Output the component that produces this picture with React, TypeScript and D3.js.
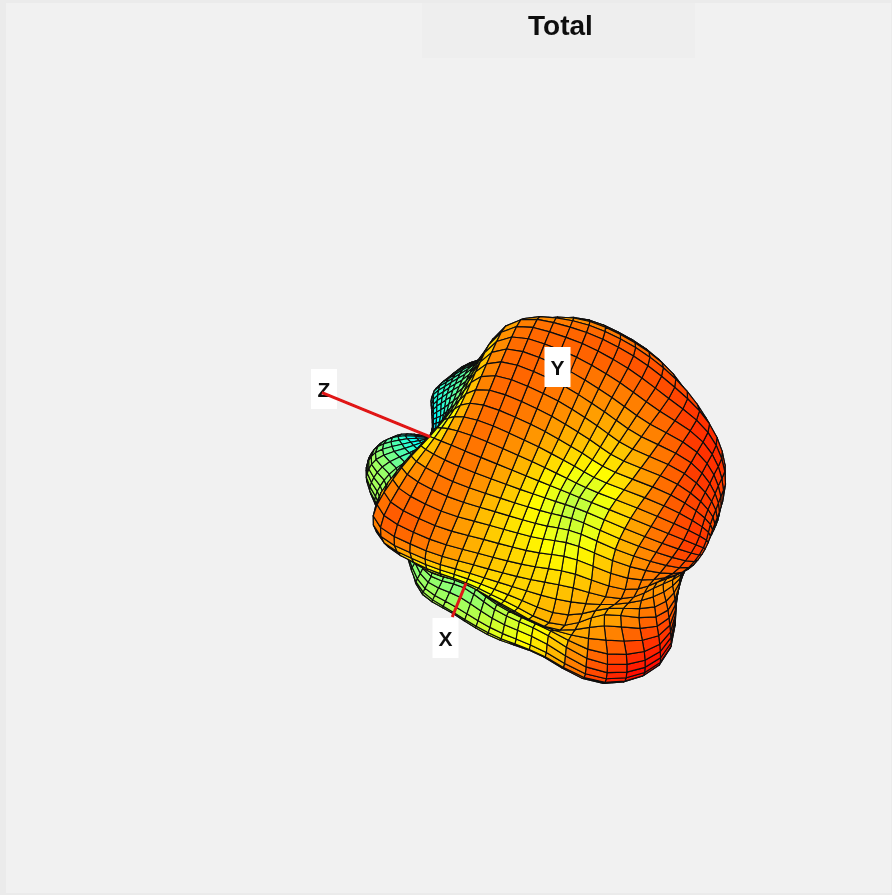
import React from "react";
import * as d3 from "d3";

const title = "Total";
const axisNames = ["X", "Y", "Z"];
// polar angle from +Z, degrees
const thetaDeg = [0, 15, 30, 45, 60, 75, 90, 105, 120, 135, 150, 165, 180];
// azimuth relative to the viewer, degrees
const phiDeg = [-180, -165, -150, -135, -120, -105, -90, -75, -60, -45, -30, -15, 0, 15, 30, 45, 60, 75, 90, 105, 120, 135, 150, 165];
// radiation pattern magnitude, rows = theta, columns = phi
const gain0 = Array(24).fill(88);
const gain15 = [88, 88, 88, 88, 88, 90, 100, 128, 137, 135, 130, 118, 90, 90, 92, 95, 95, 92, 90, 88, 88, 88, 88, 88];
const gain30 = [90, 90, 90, 92, 95, 100, 110, 125, 148, 155, 150, 120, 100, 105, 112, 118, 112, 105, 100, 98, 95, 92, 90, 90];
const gain45 = [95, 95, 95, 100, 110, 125, 138, 140, 148, 155, 150, 130, 120, 118, 125, 126, 122, 115, 105, 100, 98, 95, 95, 95];
const gain60 = [100, 100, 100, 105, 112, 120, 125, 138, 140, 186, 218, 205, 175, 155, 150, 145, 130, 118, 108, 105, 100, 100, 100, 100];
const gain75 = [105, 100, 100, 105, 115, 130, 150, 154, 150, 180, 214, 216, 216, 215, 214, 204, 160, 140, 125, 115, 110, 105, 105, 105];
const gain90 = [105, 100, 100, 105, 115, 130, 150, 158, 142, 172, 197, 192, 200, 212, 218, 218, 190, 160, 135, 120, 110, 105, 105, 105];
const gain105 = [105, 100, 100, 110, 125, 150, 165, 170, 158, 182, 190, 178, 174, 195, 210, 224, 200, 170, 140, 120, 110, 105, 105, 105];
const gain120 = [110, 105, 105, 115, 135, 165, 180, 190, 180, 205, 190, 168, 162, 185, 208, 228, 205, 175, 140, 120, 110, 105, 105, 105];
const gain135 = [115, 110, 110, 120, 150, 195, 225, 235, 225, 198, 212, 205, 212, 222, 232, 234, 198, 170, 135, 115, 110, 105, 105, 110];
const gain150 = [120, 115, 115, 130, 165, 205, 235, 245, 238, 222, 205, 224, 233, 230, 230, 228, 200, 165, 130, 115, 110, 105, 105, 110];
const gain165 = [125, 122, 125, 135, 160, 185, 200, 205, 205, 205, 205, 210, 213, 216, 216, 210, 195, 170, 145, 130, 125, 120, 120, 122];
const gain180 = Array(24).fill(190);
const gainRows = [gain0, gain15, gain30, gain45, gain60, gain75, gain90, gain105, gain120, gain135, gain150, gain165, gain180];

const W = 892, H = 895;
const origin: [number, number] = [512, 470];
const viewAzimuth = 55.7;
const axisLen = 205;
const zDir: [number, number] = [-0.927, -0.377];
const pDir: [number, number] = [0.377, -0.927];
const meshStep = 4.5;

const cr = (a: number, b: number, c: number, d: number, t: number) =>
  0.5 * (2 * b + (c - a) * t + (2 * a - 5 * b + 4 * c - d) * t * t + (3 * b - a - 3 * c + d) * t * t * t);

function sampleGain(th: number, ph: number) {
  const u = Math.min(th / 15, thetaDeg.length - 1.000001);
  const i = Math.floor(u), tu = u - i;
  const v = (((ph + 180) % 360) + 360) % 360 / 15;
  const j = Math.floor(v), tv = v - j;
  const row = (k: number) => {
    const r = gainRows[Math.max(0, Math.min(thetaDeg.length - 1, k))];
    const n = phiDeg.length;
    return cr(r[(j + n - 1) % n], r[j % n], r[(j + 1) % n], r[(j + 2) % n], tv);
  };
  return cr(row(i - 1), row(i), row(i + 1), row(i + 2), tu);
}

const toV = d3.scaleLinear().domain([5, 282]).range([0, 1]);
const jet = d3.scaleLinear<string>()
  .domain([0, 0.125, 0.375, 0.625, 0.875, 1])
  .range(["#00008f", "#0000ff", "#00ffff", "#ffff00", "#ff0000", "#800000"])
  .interpolate(d3.interpolateRgb)
  .clamp(true);

function project(r: number, thDeg: number, phDeg: number) {
  const t = (thDeg * Math.PI) / 180, p = (phDeg * Math.PI) / 180;
  const z = r * Math.cos(t), q = r * Math.sin(t) * Math.sin(p), depth = r * Math.sin(t) * Math.cos(p);
  return {
    x: origin[0] + z * zDir[0] + q * pDir[0],
    y: origin[1] + z * zDir[1] + q * pDir[1],
    depth,
  };
}

const thetaGrid = d3.range(0, 180, meshStep);
const phiGrid = d3.range(-180, 180, meshStep);
const quadPath = d3.line<{ x: number; y: number }>().x((d) => d.x).y((d) => d.y).curve(d3.curveLinearClosed);

const faces = thetaGrid.flatMap((th) =>
  phiGrid.map((ph) => {
    const corners = [[th, ph], [th + meshStep, ph], [th + meshStep, ph + meshStep], [th, ph + meshStep]];
    const rs = corners.map(([a, b]) => sampleGain(a, b));
    const pts = corners.map(([a, b], i) => project(rs[i], a, b));
    return {
      d: quadPath(pts) as string,
      depth: d3.mean(pts, (p) => p.depth) as number,
      fill: jet(toV(d3.mean(rs) as number)),
    };
  })
).sort((a, b) => a.depth - b.depth);

const axisDirs = axisNames.map((n) => {
  if (n === "Z") return project(axisLen, 0, 0);
  return project(axisLen, 90, n === "X" ? -viewAzimuth : 90 - viewAzimuth);
});

function axisPoint(i: number, f: number) {
  const e = axisDirs[i];
  return [origin[0] + (e.x - origin[0]) * f, origin[1] + (e.y - origin[1]) * f];
}

const labelBoxes = [
  { name: "X", cx: 445.5, cy: 638 },
  { name: "Y", cx: 557.5, cy: 367 },
  { name: "Z", cx: 324, cy: 389 },
];

export default function App() {
  const [x0, x0y] = axisPoint(0, 0.72), [x1, x1y] = axisPoint(0, 0.936);
  const [z0, z0y] = axisPoint(2, 0.43), [z1, z1y] = axisPoint(2, 1);
  return (
    <svg width={W} height={H} viewBox={`0 0 ${W} ${H}`} style={{ position: "absolute", left: 0, top: 0 }}>
      <defs>
        <filter id="soft" x="-5%" y="-5%" width="110%" height="110%">
          <feGaussianBlur stdDeviation={0.45} />
        </filter>
      </defs>
      <rect width={W} height={H} fill="#ebebeb" />
      <rect x={6} y={3} width={W - 7} height={H - 5} fill="#f1f1f1" />
      <rect x={422} y={3} width={273} height={55} fill="#eeeeee" />
      <g filter="url(#soft)">
        <text x={560.5} y={35} textAnchor="middle" fontFamily="Liberation Sans" fontWeight="bold" fontSize={28} fill="#0a0a0a">
          {title}
        </text>
        <g stroke="#0d0d0d" strokeWidth={1.15} strokeLinejoin="round">
          {faces.map((f, i) => (
            <path key={i} d={f.d} fill={f.fill} />
          ))}
        </g>
        <line x1={x0} y1={x0y} x2={x1} y2={x1y} stroke="#e01212" strokeWidth={3} />
        {labelBoxes.map((b) => (
          <g key={b.name}>
            <rect x={b.cx - 13} y={b.cy - 20} width={26} height={40} fill="#ffffff" />
            <text x={b.cx} y={b.cy + 8} textAnchor="middle" fontFamily="Liberation Sans" fontWeight="bold" fontSize={21} fill="#111">
              {b.name}
            </text>
          </g>
        ))}
        <line x1={z0} y1={z0y} x2={z1} y2={z1y} stroke="#e01212" strokeWidth={3} />
      </g>
    </svg>
  );
}
